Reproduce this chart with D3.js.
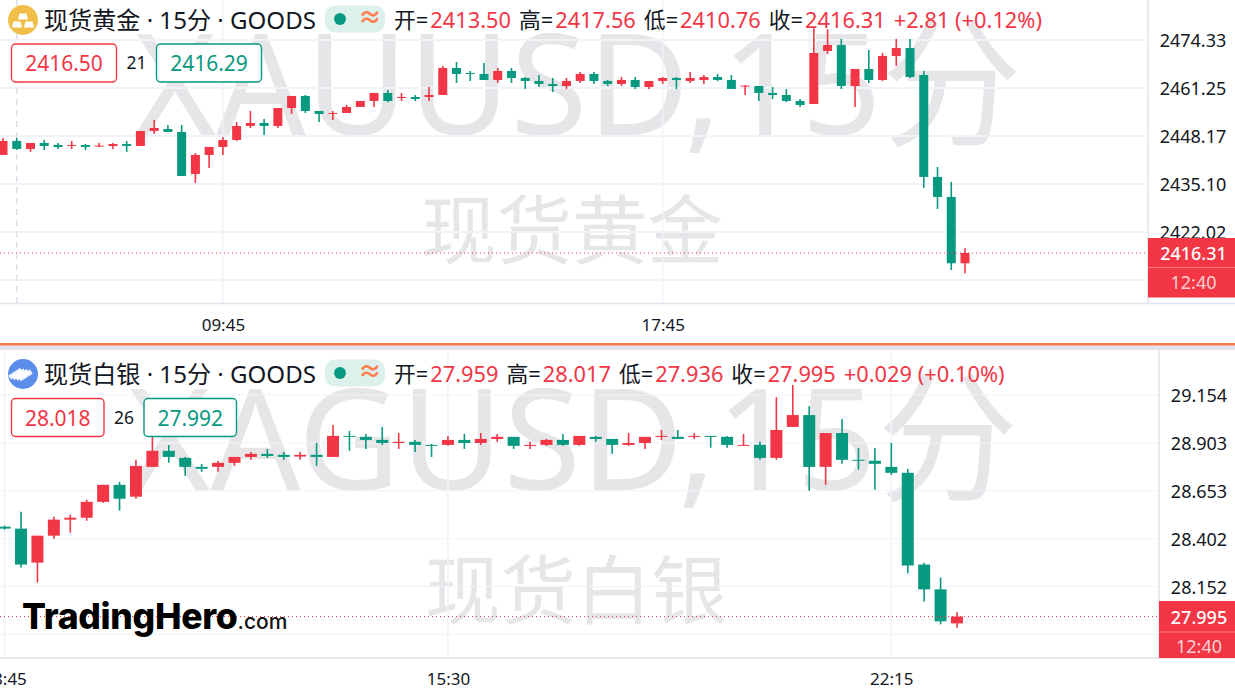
<!DOCTYPE html>
<html>
<head>
<meta charset="utf-8">
<script src="https://cdnjs.cloudflare.com/ajax/libs/d3/7.8.5/d3.min.js"></script>
<style>
  html, body { margin: 0; padding: 0; background: #fff; overflow: hidden; }
  svg { display: block; }
  text { font-family: "Noto Sans", "Noto Sans CJK SC", sans-serif; }
</style>
</head>
<body>
<script>
const goldOpen = [2443.01,2446.82,2444.64,2446.28,2445.73,2445.46,2445.73,2445.28,2445.46,2446.0,
  2445.46,2449.55,2450.09,2449.27,2437.83,2443.01,2445.19,2447.09,2450.91,2451.72,
  2450.91,2455.81,2459.08,2454.99,2454.18,2454.45,2456.08,2457.72,2459.9,2458.53,
  2458.81,2458.81,2459.35,2466.71,2465.34,2465.07,2463.44,2465.89,2463.98,2463.17,
  2462.35,2461.8,2463.17,2465.07,2463.17,2462.35,2463.44,2461.53,2463.17,2463.98,
  2463.17,2463.44,2464.25,2463.44,2461.8,2461.8,2459.9,2459.35,2457.72,2456.9,
  2471.34,2472.97,2461.8,2466.43,2463.44,2469.98,2472.15,2464.8,2437.02,2431.57,2413.5];
const goldHigh = [2447.64,2447.64,2446.28,2447.09,2446.28,2446.82,2446.0,2446.28,2446.28,2446.82,
  2449.55,2452.54,2451.18,2451.18,2443.55,2445.19,2447.91,2452.0,2454.99,2452.81,
  2455.81,2459.08,2459.35,2454.99,2454.99,2456.63,2457.72,2459.9,2460.71,2459.9,
  2459.35,2461.53,2467.25,2468.34,2465.89,2468.07,2466.71,2466.71,2464.25,2464.8,
  2463.98,2463.98,2465.62,2465.62,2463.44,2464.25,2464.25,2463.17,2464.25,2464.25,
  2465.62,2464.8,2465.07,2464.8,2462.08,2461.8,2461.53,2460.99,2458.26,2477.5,
  2477.24,2474.61,2466.43,2471.6,2470.79,2474.61,2474.61,2465.89,2439.74,2435.65,2417.56];
const goldLow = [2443.01,2444.37,2443.83,2444.37,2444.64,2444.64,2444.37,2445.19,2444.64,2443.83,
  2445.46,2448.73,2449.27,2437.29,2435.38,2439.47,2443.01,2446.82,2450.36,2448.46,
  2450.36,2454.18,2454.45,2452.0,2452.54,2454.45,2456.08,2456.08,2457.44,2457.72,
  2457.72,2457.72,2459.35,2462.62,2463.17,2463.44,2462.62,2462.62,2460.99,2461.53,
  2460.17,2460.99,2462.62,2462.35,2461.8,2461.8,2460.99,2460.99,2462.35,2460.99,
  2462.62,2462.35,2463.17,2460.99,2459.35,2457.72,2458.26,2457.44,2456.08,2456.9,
  2470.52,2460.99,2456.08,2462.62,2463.17,2467.25,2463.98,2434.02,2428.3,2411.68,2410.76];
const goldClose = [2446.82,2444.64,2446.28,2445.46,2445.19,2445.73,2445.19,2445.55,2446.0,2445.46,
  2449.55,2450.36,2449.27,2437.29,2443.01,2445.19,2447.09,2450.91,2451.72,2450.91,
  2455.81,2459.08,2454.99,2454.18,2454.45,2456.08,2457.72,2459.9,2457.72,2458.81,
  2458.26,2459.35,2466.71,2465.07,2465.07,2463.44,2465.89,2463.98,2463.17,2462.35,
  2461.8,2463.17,2465.07,2463.17,2462.35,2463.44,2461.53,2463.17,2463.98,2463.44,
  2463.98,2464.25,2463.44,2460.99,2461.9,2459.9,2459.35,2457.72,2456.63,2470.79,
  2472.97,2461.8,2466.43,2463.44,2469.98,2472.15,2464.25,2437.02,2431.57,2413.5,2416.31];
const goldPriceTicks = [2474.33,2461.25,2448.17,2435.10,2422.02,2408.94];
const goldTimeIndex = [16,48];
const goldTimeLabels = ["09:45","17:45"];

const silverOpen = [28.465,28.455,28.277,28.418,28.502,28.512,28.595,28.684,28.622,28.778,
  28.862,28.825,28.778,28.778,28.799,28.830,28.846,28.841,28.832,28.841,
  28.830,28.940,28.935,28.919,28.903,28.909,28.893,28.893,28.919,28.903,
  28.924,28.935,28.888,28.893,28.919,28.893,28.935,28.924,28.893,28.903,
  28.935,28.935,28.935,28.940,28.935,28.888,28.893,28.825,28.987,29.049,
  28.778,28.955,28.815,28.810,28.778,28.747,28.267,28.137,27.959];
const silverHigh = [28.470,28.543,28.418,28.517,28.528,28.606,28.684,28.700,28.815,28.935,
  28.893,28.830,28.794,28.809,28.830,28.856,28.872,28.856,28.856,28.903,
  28.997,28.966,28.950,28.987,28.955,28.919,28.898,28.940,28.950,28.955,
  28.950,28.935,28.909,28.924,28.950,28.940,28.940,28.924,28.955,28.935,
  28.971,28.971,28.955,28.940,28.940,28.950,28.909,29.143,29.206,29.096,
  28.955,29.029,28.877,28.877,28.903,28.768,28.277,28.199,28.017];
const silverLow = [28.449,28.251,28.173,28.402,28.434,28.496,28.590,28.549,28.611,28.778,
  28.799,28.731,28.752,28.752,28.783,28.815,28.825,28.815,28.815,28.783,
  28.830,28.862,28.872,28.893,28.872,28.856,28.830,28.888,28.872,28.893,
  28.909,28.872,28.872,28.888,28.888,28.888,28.909,28.846,28.888,28.872,
  28.919,28.924,28.924,28.878,28.878,28.888,28.815,28.815,28.987,28.653,
  28.684,28.794,28.763,28.658,28.736,28.220,28.074,27.954,27.936];
const silverClose = [28.455,28.267,28.418,28.502,28.512,28.595,28.684,28.611,28.783,28.862,
  28.830,28.778,28.768,28.799,28.830,28.846,28.835,28.830,28.841,28.830,
  28.940,28.935,28.919,28.903,28.909,28.893,28.888,28.919,28.903,28.924,
  28.935,28.888,28.893,28.919,28.893,28.940,28.924,28.893,28.903,28.935,
  28.940,28.924,28.940,28.935,28.893,28.893,28.825,28.971,29.049,28.778,
  28.955,28.815,28.810,28.794,28.747,28.262,28.137,27.970,27.995];
const silverPriceTicks = [29.154,28.903,28.653,28.402,28.152,27.901];
const silverTimeIndex = [0,27,54];
const silverTimeLabels = ["08:45","15:30","22:15"];

const red = "#f23645", green = "#089981", gridColor = "#f0f3fa", lineColor = "#e0e3eb", markColor = "#e6e6e8";

const svg = d3.select("body").append("svg").attr("width", 1235).attr("height", 694);
svg.append("rect").attr("width", 1235).attr("height", 694).attr("fill", "#fff");

function drawPane(p) {
  const g = svg.append("g");
  const x = d3.scaleLinear().domain(p.xDomain).range(p.xRange);
  const y = d3.scaleLinear().domain(p.yDomain).range(p.yRange);
  const candles = d3.range(p.open.length);

  const clipId = "clip" + p.id;
  svg.append("clipPath").attr("id", clipId).append("rect")
    .attr("x", 0).attr("y", p.top).attr("width", p.axisX).attr("height", p.bottom - p.top);

  // watermarks
  g.append("text").attr("x", p.wmX).attr("y", p.wmY).attr("text-anchor", "middle")
    .attr("font-size", p.wmSize).attr("fill", markColor).text(p.symbolMark);
  g.append("text").attr("x", p.nameX).attr("y", p.nameY).attr("text-anchor", "middle")
    .attr("font-family", "Noto Sans CJK SC").attr("font-size", 75.5).attr("fill", markColor).text(p.name);

  // grid
  g.append("g").selectAll("line").data(p.priceTicks).enter().append("line")
    .attr("x1", 0).attr("x2", p.axisX)
    .attr("y1", d => y(d)).attr("y2", d => y(d))
    .attr("stroke", gridColor).attr("stroke-width", p.gridWidth);
  g.append("g").selectAll("line").data(p.timeIndex).enter().append("line")
    .attr("x1", d => x(d)).attr("x2", d => x(d))
    .attr("y1", p.top).attr("y2", p.bottom)
    .attr("stroke", gridColor).attr("stroke-width", 1.5);

  if (p.crossIndex !== undefined) {
    g.append("line").attr("x1", x(p.crossIndex)).attr("x2", x(p.crossIndex))
      .attr("y1", p.top).attr("y2", p.bottom)
      .attr("stroke", "#d5d9e6").attr("stroke-width", 1.2).attr("stroke-dasharray", "6,5");
  }

  // candles
  const bars = g.append("g").attr("clip-path", "url(#" + clipId + ")");
  const col = i => p.close[i] >= p.open[i] ? red : green;
  bars.selectAll(".wick").data(candles).enter().append("line")
    .attr("class", "wick")
    .attr("x1", i => x(i)).attr("x2", i => x(i))
    .attr("y1", i => y(p.high[i])).attr("y2", i => y(p.low[i]))
    .attr("stroke", col).attr("stroke-width", p.wickWidth);
  bars.selectAll(".body").data(candles).enter().append("rect")
    .attr("class", "body")
    .attr("x", i => x(i) - p.barWidth / 2)
    .attr("width", p.barWidth)
    .attr("y", i => y(Math.max(p.open[i], p.close[i])))
    .attr("height", i => Math.max(1, Math.abs(y(p.open[i]) - y(p.close[i]))))
    .attr("fill", col);

  // last price line
  g.append("line").attr("x1", 0).attr("x2", p.axisX)
    .attr("y1", y(p.last)).attr("y2", y(p.last))
    .attr("stroke", red).attr("stroke-width", 1).attr("stroke-dasharray", "1,3");

  // frame
  g.append("line").attr("x1", 0).attr("x2", 1235).attr("y1", p.bottom).attr("y2", p.bottom)
    .attr("stroke", lineColor).attr("stroke-width", 1.5);
  g.append("line").attr("x1", p.axisX).attr("x2", p.axisX).attr("y1", p.top).attr("y2", p.bottom)
    .attr("stroke", lineColor).attr("stroke-width", 1.5);

  // price axis
  const yAxis = g.append("g").attr("transform", "translate(" + p.axisX + ",0)")
    .call(d3.axisRight(y).tickValues(p.priceTicks).tickSize(0).tickFormat(d => d.toFixed(p.decimals)));
  yAxis.select(".domain").remove();
  yAxis.selectAll("text").attr("x", p.labelDx).attr("y", 1).attr("text-anchor", "middle")
    .style("font-family", '"Noto Sans"').style("font-size", "18px").attr("fill", "#131722");

  // time axis
  const xAxis = g.append("g").attr("transform", "translate(0," + p.bottom + ")")
    .call(d3.axisBottom(x).tickValues(p.timeIndex).tickSize(0).tickFormat((d, i) => p.timeLabels[i]));
  xAxis.select(".domain").remove();
  xAxis.selectAll("text").attr("y", 15).attr("dy", "0.71em")
    .style("font-family", '"Noto Sans"').style("font-size", "17px").attr("fill", "#131722");

  // last price tag
  g.append("rect").attr("x", p.axisX).attr("y", p.tagTop).attr("width", 1235 - p.axisX).attr("height", p.tagBottom - p.tagTop).attr("fill", red);
  g.append("line").attr("x1", p.axisX).attr("x2", 1235).attr("y1", p.tagMid).attr("y2", p.tagMid)
    .attr("stroke", "#f77c80").attr("stroke-width", 1);
  g.append("text").attr("x", (p.axisX + 1235) / 2 + p.tagShift).attr("y", y(p.last) + 7).attr("text-anchor", "middle")
    .attr("font-size", 18).attr("font-weight", 500).attr("fill", "#fff").text(p.last.toFixed(p.decimals));
  g.append("text").attr("x", (p.axisX + 1235) / 2 + p.tagShift).attr("y", p.tagMid + 21).attr("text-anchor", "middle")
    .attr("font-size", 18).attr("fill", "#fcd0d3").text(p.countdown);

  // header
  const head = g.append("g");
  head.append("circle").attr("cx", 23).attr("cy", p.headY).attr("r", 15).attr("fill", p.iconColor);
  p.drawIcon(head, 23, p.headY);
  head.append("text").attr("x", 44).attr("y", p.headY + 8.5)
    .attr("font-size", 24.1).attr("fill", "#131722").text(p.title);

  head.append("rect").attr("x", 325).attr("y", p.headY - 14.5).attr("width", 60).attr("height", 27)
    .attr("rx", 10).attr("fill", "#dcf1ec");
  head.append("circle").attr("cx", 340).attr("cy", p.headY - 1).attr("r", 6).attr("fill", green);
  head.append("text").attr("x", 370).attr("y", p.headY + 6).attr("text-anchor", "middle")
    .attr("font-size", 24).attr("font-weight", 700).attr("fill", "#ff7f50").text("≈");

  let cx = 394;
  p.ohlcLabels.forEach((lab, i) => {
    const t1 = head.append("text").attr("x", cx).attr("y", p.headY + 7.5).attr("font-size", 21.8)
      .attr("fill", "#131722").text(lab + "=");
    cx += t1.node().getComputedTextLength() + 2;
    const t2 = head.append("text").attr("x", cx).attr("y", p.headY + 7.5).attr("font-size", 21.8)
      .attr("fill", red).text(p.ohlcValues[i]);
    cx += t2.node().getComputedTextLength() + 8;
  });
  head.append("text").attr("x", cx).attr("y", p.headY + 7.5).attr("font-size", 21.8)
    .attr("fill", red).text(p.change);

  // bid / ask boxes
  const box = (bx, w, col, txt) => {
    head.append("rect").attr("x", bx).attr("y", p.boxY).attr("width", w).attr("height", 38).attr("rx", 4)
      .attr("fill", "#fff").attr("stroke", col).attr("stroke-width", 1.4);
    head.append("text").attr("x", bx + w / 2).attr("y", p.boxY + 27).attr("text-anchor", "middle")
      .attr("font-size", 21).attr("fill", col).text(txt);
  };
  box(11.5, p.boxW, red, p.bid);
  head.append("text").attr("x", 11.5 + p.boxW + 20).attr("y", p.boxY + 25).attr("text-anchor", "middle")
    .attr("font-size", 17.5).attr("fill", "#131722").text(p.spread);
  box(11.5 + p.boxW + 40, p.boxW, green, p.ask);
}

function goldIcon(g, cx, cy) {
  [[0, -3.5], [-6, 4.5], [6, 4.5]].forEach(d => {
    g.append("path")
      .attr("d", d3.line()([[cx + d[0] - 3.5, cy + d[1] - 3], [cx + d[0] + 3.5, cy + d[1] - 3], [cx + d[0] + 5, cy + d[1] + 3], [cx + d[0] - 5, cy + d[1] + 3]]) + "Z")
      .attr("fill", "#fff");
  });
}
function silverIcon(g, cx, cy) {
  [-5, -2, 1, 4].forEach(d => {
    g.append("rect").attr("x", cx - 9 + d).attr("y", cy - 3 + d * 0.2).attr("width", 14).attr("height", 5)
      .attr("fill", "#fff").attr("opacity", 0.9)
      .attr("transform", "rotate(-32 " + (cx + d) + " " + cy + ")");
  });
}

drawPane({
  id: "gold", top: 0, bottom: 303.5, axisX: 1148,
  open: goldOpen, high: goldHigh, low: goldLow, close: goldClose,
  xDomain: [0, 70], xRange: [3, 965], yDomain: [2474.33, 2408.94], yRange: [40, 280],
  priceTicks: goldPriceTicks, timeIndex: goldTimeIndex, timeLabels: goldTimeLabels,
  crossIndex: 1, barWidth: 9, wickWidth: 1.6, gridWidth: 2, decimals: 2, labelDx: 45, tagShift: 2,
  last: 2416.31, countdown: "12:40", tagTop: 238, tagMid: 267.5, tagBottom: 297.5,
  wmX: 578, wmY: 135, wmSize: 140, symbolMark: "XAUUSD,15分",
  name: "现货黄金", nameX: 572, nameY: 258,
  headY: 20, iconColor: "#f0bf4a", drawIcon: goldIcon, title: "现货黄金 · 15分 · GOODS",
  ohlcLabels: ["开","高","低","收"], ohlcValues: ["2413.50","2417.56","2410.76","2416.31"], change: "+2.81 (+0.12%)",
  boxY: 44, boxW: 105, bid: "2416.50", spread: "21", ask: "2416.29"
});

drawPane({
  id: "silver", top: 350, bottom: 658, axisX: 1159,
  open: silverOpen, high: silverHigh, low: silverLow, close: silverClose,
  xDomain: [0, 58], xRange: [4.6, 957], yDomain: [29.154, 27.901], yRange: [395, 634.5],
  priceTicks: silverPriceTicks, timeIndex: silverTimeIndex, timeLabels: silverTimeLabels,
  barWidth: 12, wickWidth: 1.6, gridWidth: 1.2, decimals: 3, labelDx: 40, tagShift: 2,
  last: 27.995, countdown: "12:40", tagTop: 601, tagMid: 632, tagBottom: 658,
  wmX: 573, wmY: 490, wmSize: 141, symbolMark: "XAGUSD,15分",
  name: "现货白银", nameX: 576, nameY: 618,
  headY: 374, iconColor: "#5b8dea", drawIcon: silverIcon, title: "现货白银 · 15分 · GOODS",
  ohlcLabels: ["开","高","低","收"], ohlcValues: ["27.959","28.017","27.936","27.995"], change: "+0.029 (+0.10%)",
  boxY: 398.5, boxW: 92.5, bid: "28.018", spread: "26", ask: "27.992"
});

// divider between panes
svg.append("rect").attr("x", 0).attr("y", 345).attr("width", 1235).attr("height", 5).attr("fill", lineColor);
svg.append("rect").attr("x", 0).attr("y", 343).attr("width", 1235).attr("height", 2.5).attr("fill", "#ff7a45");

// logo
const logo = svg.append("text").attr("x", 22).attr("y", 629);
logo.append("tspan").attr("font-family", "Inter").attr("font-weight", 800).attr("font-size", 35.5)
  .attr("letter-spacing", "-0.3").attr("fill", "#000").text("TradingHero");
logo.append("tspan").attr("font-family", "Inter").attr("font-weight", 500).attr("font-size", 21)
  .attr("fill", "#111").text(".com");
</script>
</body>
</html>
